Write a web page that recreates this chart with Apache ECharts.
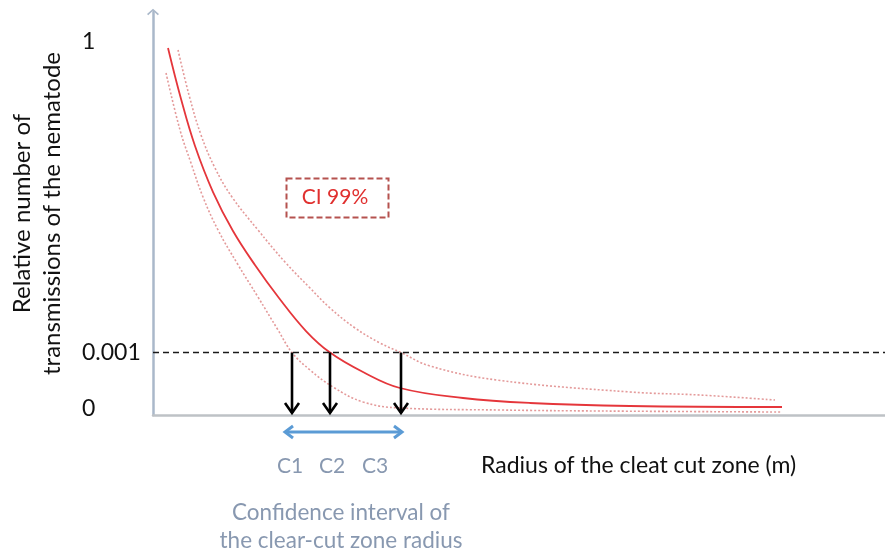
<!DOCTYPE html>
<html>
<head>
<meta charset="utf-8">
<style>
  html, body { margin: 0; padding: 0; background: #fff; }
  #chart { width: 885px; height: 550px; }
</style>
<script src="https://cdn.jsdelivr.net/npm/echarts@6/dist/echarts.min.js"></script>
</head>
<body>
<div id="chart"></div>
<script>
// Radius axis units (0–100) and display height of the transmission axis (0–100)
const fitX   = [2.05, 3.83, 5.74, 8.20, 10.93, 13.93, 17.21, 20.90, 24.18, 28.69, 33.74, 42.35, 51.50, 65.16, 85.93];
const fitY   = [91.07, 78.41, 66.75, 55.33, 45.66, 37.22, 29.03, 20.84, 15.5, 10.67, 6.70, 4.22, 2.98, 2.23, 1.99];

const upperX = [3.42, 4.92, 6.56, 8.47, 10.79, 14.34, 18.03, 21.45, 24.18, 27.60, 31.01, 33.88, 37.84, 46.99, 65.16, 74.73, 84.97];
const upperY = [90.57, 79.40, 69.48, 61.29, 54.09, 45.91, 37.97, 31.51, 26.55, 21.59, 17.87, 15.5, 12.16, 8.68, 5.71, 4.96, 3.72];

const lowerX = [1.78, 3.69, 5.19, 6.83, 8.88, 11.55, 14.34, 17.08, 18.99, 21.45, 24.59, 28.69, 33.74, 47.40, 61.07, 85.93];
const lowerY = [84.86, 70.72, 62.53, 54.09, 45.91, 37.47, 29.28, 21.09, 15.5, 11.17, 6.95, 3.23, 1.74, 1.24, 0.99, 0.74];

// Level of 0.001 transmissions and the radii where each curve crosses it
const thresholdLevel = 15.5;
const crossRadii = [18.99, 24.18, 33.88];
const crossNames = ['C1', 'C2', 'C3'];

// Tick labels on the transmission axis
const yTickLevels = [1.7, 15.5, 92.6];
const yTickLabels = ['0', '0.001', '1'];

const FONT = 'Lato';
const pairs = (xs, ys) => xs.map((x, i) => [x, ys[i]]);

const chart = echarts.init(document.getElementById('chart'));

const chevronUp = 'path://M10,0 L20,9 L18,11 L10,3.5 L2,11 L0,9 Z';

const curveStyle = { smooth: 0.4, symbol: 'none' };

chart.setOption({
  animation: false,
  grid: { left: 153, right: 0, top: 12, bottom: 135, outerBoundsMode: 'none', containLabel: false },
  xAxis: {
    type: 'value', min: 0, max: 100,
    axisLine: { show: true, lineStyle: { color: '#BEC2C6', width: 2.5 } },
    axisTick: { show: false },
    axisLabel: { show: false },
    splitLine: { show: false }
  },
  yAxis: {
    type: 'value', min: 0, max: 100,
    name: 'Relative number of\ntransmissions of the nematode',
    nameLocation: 'middle',
    nameRotate: 90,
    nameGap: 86,
    nameTextStyle: { fontFamily: FONT, fontSize: 24, color: '#111', lineHeight: 30 },
    axisLine: {
      show: true,
      symbol: ['none', chevronUp],
      symbolSize: [12, 8],
      lineStyle: { color: '#AAB8CA', width: 2.5 }
    },
    axisTick: { show: false },
    axisLabel: {
      customValues: yTickLevels,
      formatter: v => yTickLabels[yTickLevels.indexOf(v)] ?? '',
      align: 'left',
      margin: 71,
      fontFamily: FONT, fontSize: 23, color: '#111'
    },
    splitLine: { show: false }
  },
  series: [
    {
      name: 'fit', type: 'line', data: pairs(fitX, fitY), ...curveStyle,
      lineStyle: { color: '#E5363B', width: 1.8 },
      markLine: {
        silent: true, symbol: 'none', label: { show: false },
        lineStyle: { color: '#1a1a1a', type: [6, 4], width: 1.3 },
        data: [{ yAxis: thresholdLevel }]
      },
      z: 4
    },
    {
      name: 'upper', type: 'line', data: pairs(upperX, upperY), ...curveStyle,
      lineStyle: { color: '#E49A9A', width: 1.6, type: [2, 2] }
    },
    {
      name: 'lower', type: 'line', data: pairs(lowerX, lowerY), ...curveStyle,
      lineStyle: { color: '#E49A9A', width: 1.6, type: [2, 2] }
    },
    {
      // Drop arrows from the 0.001 level down to the radius axis
      name: 'cross', type: 'custom', coordinateSystem: 'cartesian2d', silent: true, z: 5,
      data: crossRadii.map(r => [r, thresholdLevel]),
      renderItem: (params, api) => {
        const x = api.value(0);
        const top = api.coord([x, api.value(1)]);
        const bot = api.coord([x, 0]);
        return {
          type: 'group',
          children: [
            { type: 'line', shape: { x1: top[0], y1: top[1], x2: bot[0], y2: bot[1] - 2 },
              style: { stroke: '#000', lineWidth: 2.6 } },
            { type: 'polyline',
              shape: { points: [[bot[0] - 7, bot[1] - 12], [bot[0], bot[1] - 2], [bot[0] + 7, bot[1] - 12]] },
              style: { stroke: '#000', lineWidth: 2.6, fill: null } }
          ]
        };
      }
    },
    {
      // Double arrow spanning the confidence interval of the radius
      name: 'ci', type: 'custom', coordinateSystem: 'cartesian2d', silent: true, clip: false,
      data: [[crossRadii[0], crossRadii[2]]],
      renderItem: (params, api) => {
        const l = api.coord([api.value(0), 0]);
        const r = api.coord([api.value(1), 0]);
        const y = l[1] + 17;
        const x1 = l[0] - 7, x2 = r[0] + 1;
        const st = { stroke: '#5B9BD5', lineWidth: 3, fill: null };
        return {
          type: 'group',
          children: [
            { type: 'line', shape: { x1: x1 + 1, y1: y, x2: x2 - 1, y2: y }, style: st },
            { type: 'polyline', shape: { points: [[x1 + 8, y - 6], [x1, y], [x1 + 8, y + 6]] }, style: st },
            { type: 'polyline', shape: { points: [[x2 - 8, y - 6], [x2, y], [x2 - 8, y + 6]] }, style: st }
          ]
        };
      }
    }
  ],
  graphic: [
    {
      type: 'rect', left: 284, top: 176,
      shape: { width: 102, height: 39 },
      style: { fill: 'none', stroke: '#B5524F', lineWidth: 2, lineDash: [6, 3] }
    },
    {
      type: 'text', x: 335, y: 197,
      style: { text: 'CI 99%', fontFamily: FONT, fontSize: 21, fill: '#E0302F', align: 'center', verticalAlign: 'middle' }
    },
    ...crossNames.map((t, i) => ({
      type: 'text', x: [290, 332, 375][i], y: 466,
      style: { text: t, fontFamily: FONT, fontSize: 21, fill: '#8898B0', align: 'center', verticalAlign: 'middle' }
    })),
    {
      type: 'text', x: 481, y: 466,
      style: { text: 'Radius of the cleat cut zone (m)', fontFamily: FONT, fontSize: 23, fill: '#111', align: 'left', verticalAlign: 'middle' }
    },
    {
      type: 'text', x: 341, y: 527,
      style: { text: 'Confidence interval of\nthe clear-cut zone radius', fontFamily: FONT, fontSize: 22.5, lineHeight: 28,
               fill: '#8898B0', align: 'center', verticalAlign: 'middle' }
    }
  ]
});
</script>
</body>
</html>
